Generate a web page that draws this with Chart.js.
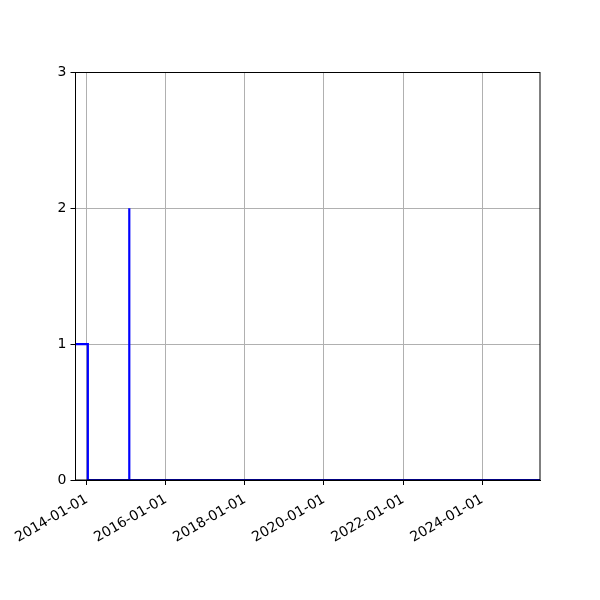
<!DOCTYPE html>
<html>
<head>
<meta charset="utf-8">
<script src="https://cdn.jsdelivr.net/npm/chart.js@4/dist/chart.umd.min.js"></script>
<style>
    html, body { margin: 0; padding: 0; background: #ffffff; }
    #wrap { width: 600px; height: 600px; }
</style>
</head>
<body>
<div id="wrap"><canvas id="StepChart"></canvas></div>
<script>
// Data
const dates = ['2013-09-18', '2014-01-10', '2014-01-10', '2015-01-28', '2015-01-28', '2015-01-28', '2025-06-19'];
const counts = [1, 1, 0, 0, 2, 0, 0];
const xTickDates = ['2014-01-01', '2016-01-01', '2018-01-01', '2020-01-01', '2022-01-01', '2024-01-01'];
const yTicks = [0, 1, 2, 3];

const xMin = Date.parse('2013-09-18');
const xMax = Date.parse('2025-06-19');

function formatDate(ms) {
    const d = new Date(ms);
    const mm = String(d.getUTCMonth() + 1).padStart(2, '0');
    const dd = String(d.getUTCDate()).padStart(2, '0');
    return d.getUTCFullYear() + '-' + mm + '-' + dd;
}

// draw the top and right spines like a matplotlib box
const boxPlugin = {
    id: 'box',
    afterDraw(chart) {
        const a = chart.chartArea;
        const ctx = chart.ctx;
        ctx.save();
        ctx.strokeStyle = '#000000';
        ctx.lineWidth = 1;
        ctx.strokeRect(a.left, a.top, a.right - a.left, a.bottom - a.top);
        ctx.restore();
    }
};

const points = dates.map((d, i) => ({ x: Date.parse(d), y: counts[i] }));

Chart.defaults.font.family = '"DejaVu Sans", sans-serif';
Chart.defaults.font.size = 14;
Chart.defaults.color = '#000000';

new Chart(document.getElementById('StepChart').getContext('2d'), {
    type: 'line',
    data: {
        datasets: [{
            data: points,
            borderColor: '#0000ff',
            borderWidth: 2.2,
            pointRadius: 0,
            fill: false,
            tension: 0
        }]
    },
    options: {
        responsive: true,
        maintainAspectRatio: false,
        animation: false,
        layout: { padding: { left: 0, right: 60, top: 72.5, bottom: 0 } },
        plugins: { legend: { display: false }, tooltip: { enabled: false } },
        scales: {
            x: {
                type: 'linear',
                min: xMin,
                max: xMax,
                afterBuildTicks: scale => {
                    scale.ticks = xTickDates.map(d => ({ value: Date.parse(d) }));
                },
                afterFit: scale => { scale.height = 120; },
                ticks: {
                    callback: value => formatDate(value),
                    minRotation: 30,
                    maxRotation: 30,
                    autoSkip: false,
                    padding: 6
                },
                grid: { color: '#b0b0b0', lineWidth: 1, tickColor: '#000000', tickLength: 5 },
                border: { color: '#000000', width: 1 }
            },
            y: {
                min: 0,
                max: 3,
                afterBuildTicks: scale => {
                    scale.ticks = yTicks.map(v => ({ value: v }));
                },
                afterFit: scale => { scale.width = 75.5; },
                ticks: { padding: 4 },
                grid: { color: '#b0b0b0', lineWidth: 1, tickColor: '#000000', tickLength: 5 },
                border: { color: '#000000', width: 1 }
            }
        }
    },
    plugins: [boxPlugin]
});
</script>
</body>
</html>
